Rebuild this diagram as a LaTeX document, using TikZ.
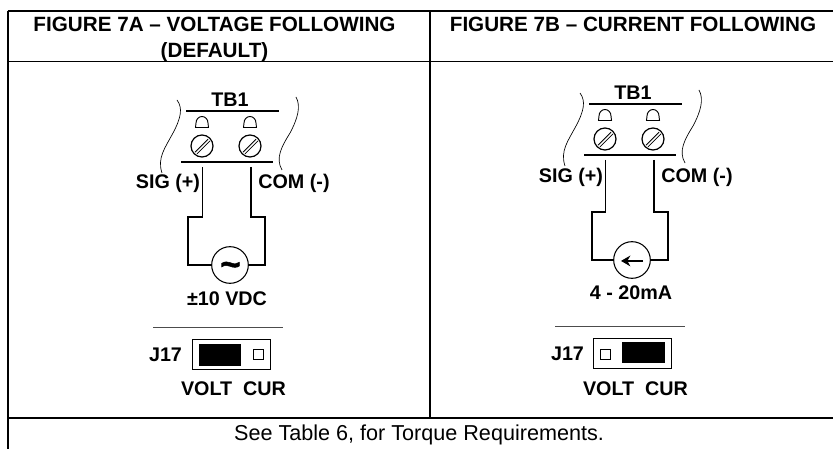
\documentclass[tikz,border=0pt]{standalone}
\usepackage{fontspec}
\usetikzlibrary{arrows.meta}
\setmainfont{Liberation Sans}

\tikzset{
    rule/.style={line width=1.3pt},
    wire/.style={line width=1.25pt},
    hair/.style={line width=0.6pt},
    heading/.style={font=\bfseries\fontsize{15.5}{20}\selectfont, align=center},
    tag/.style={font=\bfseries\fontsize{14.8}{16}\selectfont},
    note/.style={font=\fontsize{16.2}{18}\selectfont},
    source/.style={circle, draw, line width=0.8pt, minimum size=27.5pt, inner sep=0pt},
    screw/.style={circle, draw, line width=0.9pt, minimum size=16.5pt, inner sep=0pt}
}

\begin{document}
\begin{tikzpicture}[x=0.75pt, y=-0.75pt]
    \useasboundingbox (0, 0) rectangle (833, 449);

    % table
    \draw [rule] (8, 449) -- (8, 11);
    \draw [rule] (7.5, 11) -- (833, 11);
    \draw [rule] (8, 61.5) -- (833, 61.5);
    \draw [rule] (8, 418) -- (833, 418);
    \draw [rule] (430, 11) -- (430, 418);

    \node (headA) at (214.5, 39.5) [heading] {FIGURE 7A -- VOLTAGE FOLLOWING\\(DEFAULT)};
    \node (headB) at (633, 24.5) [heading] {FIGURE 7B -- CURRENT FOLLOWING};
    \node (foot) at (419, 435) [note] {See Table 6, for Torque Requirements.};

    % terminal blocks
    \foreach \p/\dx/\dy in {A/0/0, B/403/-7} {
        \begin{scope}[shift={(\dx, \dy)}]
            \node (tb\p) at (230, 99.5) [tag] {TB1};
            \draw [wire] (186, 111) -- (279, 111);
            \draw [wire] (181, 162) -- (273, 162);
            \foreach \s in {202, 250} {
                \draw [line width=0.7pt] (\s - 6.5, 127.5) -- (\s - 6, 123) arc(-180:0:6 and 6.5) -- (\s + 6.5, 127.5) -- cycle;
                \node (screw\p\s) at (\s, 146) [screw] {};
                \draw [hair] (\s - 7, 152.2) -- (\s + 6, 139.2);
                \draw [hair] (\s - 5, 153.9) -- (\s + 8, 140.9);
            }
            \draw [line width=0.5pt] (177, 100) .. controls (183, 108) and (181, 118) .. (173, 133)
                .. controls (165, 148) and (157, 158) .. (162, 173);
            \draw [line width=0.5pt] (296, 97) .. controls (301, 106) and (298, 118) .. (290, 133)
                .. controls (282, 146) and (275, 158) .. (282, 170);
            \coordinate (sigtop\p) at (202.5, 167);
            \coordinate (comtop\p) at (251, 167);
        \end{scope}
    }

    \node (sigA) at (168, 183) [tag] {SIG (+)};
    \node (comA) at (294, 183) [tag] {COM (-)};
    \node (sigB) at (571, 177.5) [tag] {SIG (+)};
    \node (comB) at (697, 177.5) [tag] {COM (-)};

    % sources
    \node (srcA) at (230, 265) [source] {};
    \node (tildeA) at (230.5, 269) [font=\bfseries\fontsize{26}{26}\selectfont\addfontfeature{FakeBold=1.5}] {\textasciitilde};
    \node (srcB) at (632, 260) [source] {};
    \draw [-{Stealth[length=7pt, width=8pt]}, line width=1.5pt] ([xshift=8.25pt, yshift=-0.7pt] srcB.center) -- ([xshift=-8.25pt, yshift=-0.7pt] srcB.center);

    \draw [wire] (sigtopA) -- (202.5, 217) -- (188, 217) |- (srcA.west);
    \draw [wire] (comtopA) -- (251, 217) -- (265, 217) |- (srcA.east);
    \draw [wire] (sigtopB) -- (605.5, 212) -- (592, 212) |- (srcB.west);
    \draw [wire] (comtopB) -- (654, 212) -- (668, 212) |- (srcB.east);

    \node (voltsA) at (227, 299) [tag] {±10 VDC};
    \node (ampsB) at (631, 293) [tag] {4 - 20mA};

    % jumpers
    \draw [line width=0.5pt, color=black!70] (153, 327) -- (283, 327);
    \node (jA) at (165.5, 355) [tag] {J17};
    \node (jboxA) at (231.5, 354) [draw, line width=0.6pt, minimum width=59pt, minimum height=22.5pt, inner sep=0pt] {};
    \node (capA) at (220, 355) [fill=black, minimum width=31.5pt, minimum height=16.5pt, inner sep=0pt] {};
    \node (pinA) at (258.7, 354.5) [draw, line width=0.5pt, minimum size=7.5pt, inner sep=0pt] {};
    \node (vcA) at (233.5, 389) [tag] {VOLT\ \ CUR};

    \draw [line width=0.5pt, color=black!70] (555, 326) -- (685, 326);
    \node (jB) at (567.5, 354) [tag] {J17};
    \node (jboxB) at (632.5, 353) [draw, line width=0.6pt, minimum width=59pt, minimum height=22.5pt, inner sep=0pt] {};
    \node (capB) at (643.5, 352.5) [fill=black, minimum width=32pt, minimum height=16pt, inner sep=0pt] {};
    \node (pinB) at (605.5, 354.5) [draw, line width=0.5pt, minimum size=7.5pt, inner sep=0pt] {};
    \node (vcB) at (635.5, 389) [tag] {VOLT\ \ CUR};
\end{tikzpicture}
\end{document}
